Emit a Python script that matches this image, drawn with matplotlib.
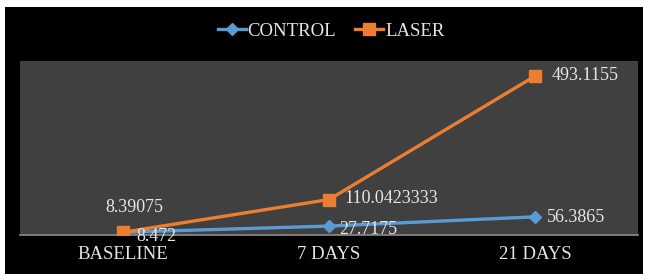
import matplotlib.pyplot as plt
from matplotlib.patches import Rectangle

# --- Dados ---
categories = ["BASELINE", "7 DAYS", "21 DAYS"]
control = [8.472, 27.7175, 56.3865]
laser = [8.39075, 110.0423333, 493.1155]
control_labels = ["8.472", "27.7175", "56.3865"]
laser_labels = ["8.39075", "110.0423333", "493.1155"]

W, H = 646, 274
plt.rcParams['font.family'] = ['Liberation Serif', 'DejaVu Serif']
txt = '#e6e6e6'

fig = plt.figure(figsize=(W / 100, H / 100), dpi=100, facecolor='white')
# fundo preto do gráfico
fig.patches.append(Rectangle((5 / W, 0), (643 - 5) / W, (H - 7) / H,
                             transform=fig.transFigure, facecolor='black',
                             edgecolor='none', zorder=-10))

ax = fig.add_axes([20 / W, (H - 235) / H, (638 - 20) / W, (235 - 61) / H])
ax.set_zorder(1)
ax.set_facecolor('#404040')

x = list(range(len(categories)))
ax.plot(x, control, color='#5B9BD5', lw=2.4, marker='D', ms=6,
        label='CONTROL', zorder=3)
ax.plot(x, laser, color='#ED7D31', lw=2.4, marker='s', ms=8,
        label='LASER', zorder=4)

ax.set_xlim(-0.5, 2.5)
ax.set_ylim(0, 540)
ax.set_xticks(x)
ax.set_xticklabels(categories, fontsize=13.5, color=txt)
ax.tick_params(axis='x', length=0, pad=8)
ax.set_yticks([])
for s in ['top', 'right', 'left']:
    ax.spines[s].set_visible(False)
ax.spines['bottom'].set_color('#8c8c8c')
ax.spines['bottom'].set_linewidth(1.2)

# rótulos de dados
laser_off = [(11, 25, 'center'), (15, 1, 'left'), (17, 1, 'left')]
control_off = [(13, -4, 'left'), (10, -3, 'left'), (12, -1, 'left')]
for i in x:
    dx, dy, ha = laser_off[i]
    ax.annotate(laser_labels[i], (i, laser[i]), xytext=(dx, dy),
                textcoords='offset pixels', ha=ha, va='center',
                fontsize=13, color=txt, zorder=5, annotation_clip=False)
    dx, dy, ha = control_off[i]
    ax.annotate(control_labels[i], (i, control[i]), xytext=(dx, dy),
                textcoords='offset pixels', ha=ha, va='center',
                fontsize=13, color=txt, zorder=5, annotation_clip=False)

leg = fig.legend(loc='center', bbox_to_anchor=(331 / W, 1 - 31 / H),
                 ncol=2, frameon=False, fontsize=13.5, handlelength=1.5,
                 handletextpad=0.1, columnspacing=1.0, labelcolor=txt)

fig.savefig('out.png', dpi=100, facecolor=fig.get_facecolor())
